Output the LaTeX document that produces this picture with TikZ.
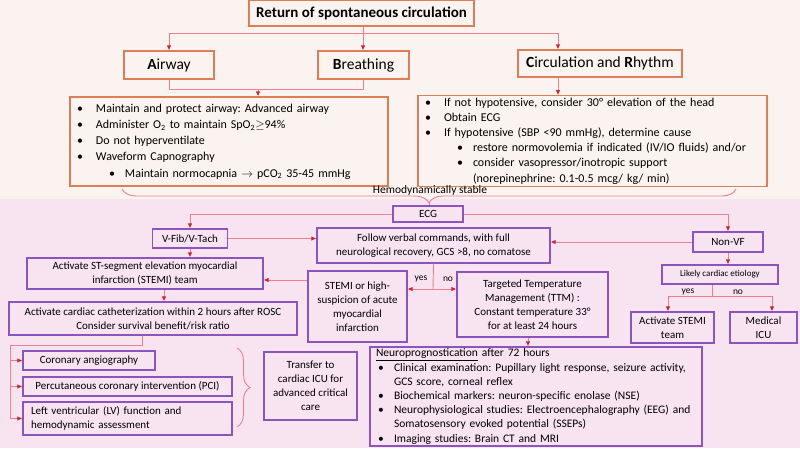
\documentclass[tikz,border=0pt]{standalone}
\usepackage{fontspec}
\setmainfont{Carlito}
\usepackage{tikz}
\usetikzlibrary{arrows.meta,positioning,calc,decorations.pathreplacing}
\definecolor{creambg}{RGB}{250,243,239}
\definecolor{pinkbg}{RGB}{248,228,241}
\definecolor{orangeline}{RGB}{222,126,86}
\definecolor{purpleline}{RGB}{140,84,190}
\definecolor{linkred}{RGB}{236,128,140}
\definecolor{tipred}{RGB}{214,32,48}
\newcommand{\bul}[2]{\hspace*{#1}\makebox[#2][l]{\textbullet}}
\frenchspacing

\tikzset{
	topbox/.style={draw=orangeline,line width=1.2pt,fill=creambg,inner sep=2pt,align=center,font=\fontsize{15.5}{17}\selectfont},
	lowbox/.style={draw=purpleline,line width=1.2pt,fill=pinkbg,inner sep=2pt,align=center,font=\fontsize{11}{14}\selectfont},
	link/.style={draw=linkred,line width=0.9pt},
	linkarrow/.style={link,-{Latex[length=5pt,width=4.5pt,color=tipred]}},
	tag/.style={inner sep=0pt,font=\fontsize{9.5}{11}\selectfont},
}

\begin{document}
\begin{tikzpicture}[x=1pt,y=-1pt]
		
		\useasboundingbox (0,0) rectangle (800,448);
		\fill[creambg] (0,0) rectangle (800,199);
		\fill[pinkbg] (0,199) rectangle (800,448);
		
		\node[topbox,minimum width=225pt,minimum height=26pt,font=\fontsize{15}{17}\selectfont\bfseries] (rosc) at (361.5,13) {Return of spontaneous circulation};
		\node[topbox,minimum width=90pt,minimum height=28pt] (airway) at (169,65) {\textbf{A}irway};
		\node[topbox,minimum width=91pt,minimum height=28pt] (breath) at (363.5,65) {\textbf{B}reathing};
		\node[topbox,minimum width=164pt,minimum height=27pt] (circ) at (600,63.5) {\textbf{C}irculation and \textbf{R}hythm};
		
		\node[topbox,minimum width=318pt,minimum height=89pt,inner xsep=7pt,text width=304pt,align=left,font=\fontsize{12}{16.2}\selectfont] (airwaylist) at (229,141.5) {\bul{0pt}{19pt}Maintain and protect airway: Advanced airway\\
			\bul{0pt}{19pt}Administer O\textsubscript{2} to maintain SpO\textsubscript{2}$\geq$94\%\\
			\bul{0pt}{19pt}Do not hyperventilate\\
			\bul{0pt}{19pt}Waveform Capnography\\
			\bul{32pt}{16pt}Maintain normocapnia $\rightarrow$ pCO\textsubscript{2} 35-45 mmHg};
		\node[topbox,minimum width=349pt,minimum height=90pt,inner xsep=7pt,text width=335pt,align=left,font=\fontsize{12}{15.2}\selectfont] (circlist) at (592.5,141) {\bul{0pt}{19pt}If not hypotensive, consider 30° elevation of the head\\
			\bul{0pt}{19pt}Obtain ECG\\
			\bul{0pt}{19pt}If hypotensive (SBP <90 mmHg), determine cause\\
			\bul{32pt}{16pt}restore normovolemia if indicated (IV/IO fluids) and/or\\
			\bul{32pt}{16pt}consider vasopressor/inotropic support\\
			\hspace*{48pt}(norepinephrine: 0.1-0.5 mcg/ kg/ min)};
		
		\coordinate (topsplit) at (363,33);
		\draw[link] (rosc.south -| topsplit) -- (topsplit);
		\draw[linkarrow] (topsplit) -| (airway.north);
		\draw[linkarrow] (topsplit) -- (topsplit |- breath.north);
		\draw[linkarrow] (topsplit) -| ([xshift=-42pt]circ.north);
		
		\coordinate (abjoin) at (258,89);
		\draw[link] (airway.south) |- (abjoin);
		\draw[link] (breath.south) |- (abjoin);
		\draw[linkarrow] (abjoin) -- (abjoin |- airwaylist.north);
		\draw[linkarrow] ([xshift=-42pt]circ.south) -- ([xshift=-42pt]circ.south |- circlist.north);
		
		\draw[link,decorate,decoration={brace,mirror,amplitude=14pt}] (122,189) -- (736,189);
		\node[font=\fontsize{11.5}{13}\selectfont,inner sep=0pt] (stable) at (430,190) {Hemodynamically stable};
		\coordinate (bracetip) at (429,203);
		
		\node[lowbox,minimum width=70pt,minimum height=16pt] (ecg) at (428,214) {ECG};
		\draw[link] (bracetip) -- (bracetip |- ecg.north);
		
		\node[lowbox,minimum width=75pt,minimum height=19pt] (vfib) at (190,238.5) {V-Fib/V-Tach};
		\node[lowbox,minimum width=233pt,minimum height=35pt] (follow) at (433.5,245.5) {Follow verbal commands, with full\\neurological recovery, GCS >8, no comatose};
		\node[lowbox,minimum width=70pt,minimum height=20pt] (nonvf) at (728,242) {Non-VF};
		\node[lowbox,minimum width=116pt,minimum height=19pt,font=\fontsize{9}{11}\selectfont] (cardiac) at (720,274.5) {Likely cardiac etiology};
		\node[lowbox,minimum width=83pt,minimum height=31pt] (stemiteam) at (672.5,327.5) {Activate STEMI\\team};
		\node[lowbox,minimum width=67pt,minimum height=31pt] (micu) at (763.5,327.5) {Medical\\ICU};
		
		\node[lowbox,minimum width=99pt,minimum height=71pt] (suspect) at (357.5,306.5) {STEMI or high-\\suspicion of acute\\myocardial\\infarction};
		\node[lowbox,minimum width=151pt,minimum height=65pt] (ttm) at (532.5,304.5) {Targeted Temperature\\Management (TTM) :\\Constant temperature 33°\\for at least 24 hours};
		\node[lowbox,minimum width=236pt,minimum height=31pt] (stseg) at (145,273.5) {Activate ST-segment elevation myocardial\\infarction (STEMI) team};
		\node[lowbox,minimum width=288pt,minimum height=33pt] (cath) at (153,318.5) {Activate cardiac catheterization within 2 hours after ROSC\\Consider survival benefit/risk ratio};
		
		\node[lowbox,minimum width=132pt,minimum height=19pt] (angio) at (89,360.5) {Coronary angiography};
		\node[lowbox,minimum width=209pt,minimum height=19pt] (pci) at (127.5,386.5) {Percutaneous coronary intervention (PCI)};
		\node[lowbox,minimum width=209pt,minimum height=33pt,inner xsep=8pt,text width=193pt,align=left] (lvfunc) at (127.5,418.5) {Left ventricular (LV) function and\\hemodynamic assessment};
		\node[lowbox,minimum width=93pt,minimum height=68pt] (icu) at (310.5,386) {Transfer to\\cardiac ICU for\\advanced critical\\care};
		
		\node[lowbox,minimum width=332pt,minimum height=97pt,inner xsep=6pt,text width=320pt,align=left,font=\fontsize{11.5}{14.2}\selectfont] (neuro) at (536,396.5) {\underline{Neuroprognostication} after 72 hours\\
			\bul{2pt}{16pt}Clinical examination: Pupillary light response, seizure activity,\\
			\hspace*{18pt}GCS score, corneal reflex\\
			\bul{2pt}{16pt}Biochemical markers: neuron-specific enolase (NSE)\\
			\bul{2pt}{16pt}Neurophysiological studies: Electroencephalography (EEG) and\\
			\hspace*{18pt}Somatosensory evoked potential (SSEPs)\\
			\bul{2pt}{16pt}Imaging studies: Brain CT and MRI};
		
		\draw[linkarrow] (ecg.west) -| (vfib.north);
		\draw[linkarrow] (ecg.east) -| (nonvf.north);
		\draw[linkarrow] (vfib.east) -- (vfib.east -| follow.west);
		\draw[linkarrow] (nonvf.west) -- (nonvf.west -| follow.east);
		\draw[linkarrow] (nonvf.south) -- (nonvf.south |- cardiac.north);
		\draw[linkarrow] (vfib.south) -- (vfib.south |- stseg.north);
		\draw[linkarrow] ([xshift=19pt]stseg.south) -- ([xshift=19pt]stseg.south |- cath.north);
		\draw[linkarrow] ([yshift=-6.5pt]stseg.east -| suspect.west) -- ([yshift=-6.5pt]stseg.east);
		\draw[linkarrow] ([xshift=-4.5pt]ttm.south) -- ([xshift=-4.5pt]ttm.south |- neuro.north);
		
		\coordinate (split) at (433,289);
		\draw[link] (follow.south) -- (split);
		\draw[linkarrow] (split) -- (split -| suspect.east);
		\draw[linkarrow] (split) -- (split -| ttm.west);
		\node[tag] (yesA) at (421,279) {yes};
		\node[tag] (noA) at (448,279) {no};
		
		\coordinate (split2) at (712,296);
		\draw[link] ([xshift=-8pt]cardiac.south) -- (split2);
		\draw[linkarrow] (split2) -| ([xshift=-4.5pt]stemiteam.north);
		\draw[linkarrow] (split2) -| ([xshift=8.5pt]micu.north);
		\node[tag] (yesB) at (688,292) {yes};
		\node[tag] (noB) at (738,292) {no};
		
		\coordinate (rail) at (10,345);
		\draw[link] ([xshift=-11pt]cath.south) |- (rail);
		\draw[linkarrow] (rail) |- (angio.west);
		\draw[linkarrow] (rail) |- (pci.west);
		\draw[linkarrow] (rail) |- (lvfunc.west);
		
		\draw[link,decorate,decoration={brace,amplitude=13pt}] (237,348) -- (237,427);
		
\end{tikzpicture}
\end{document}
